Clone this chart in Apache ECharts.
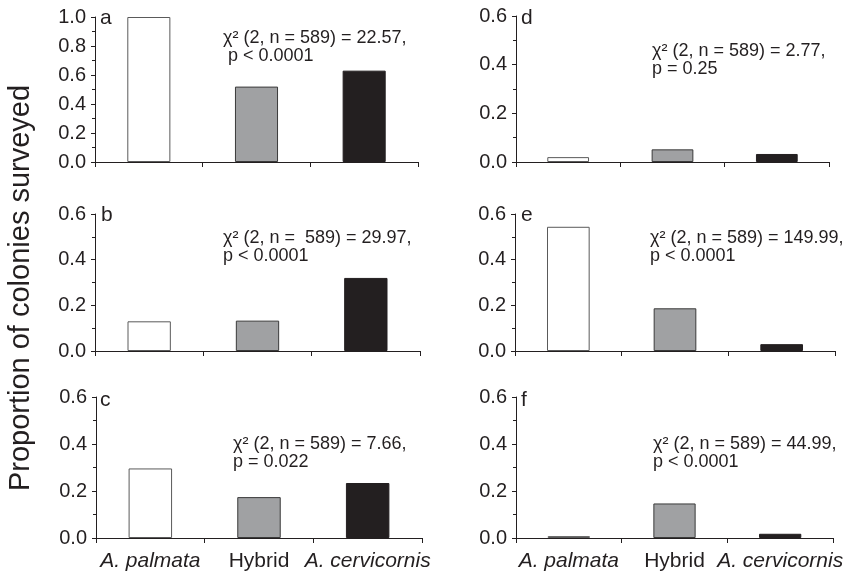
<!DOCTYPE html>
<html>
<head>
<meta charset="utf-8">
<script src="https://cdn.jsdelivr.net/npm/echarts@6/dist/echarts.min.js"></script>
<style>html,body{margin:0;padding:0;background:#fff}#c{width:850px;height:576px}</style>
</head>
<body>
<div id="c"></div>
<script>
// ---- data ----
var categories = ['A. palmata', 'Hybrid', 'A. cervicornis'];
var panelA = [1.0, 0.52, 0.63];
var panelB = [0.13, 0.133, 0.32];
var panelC = [0.296, 0.174, 0.234];
var panelD = [0.02, 0.052, 0.033];
var panelE = [0.544, 0.187, 0.03];
var panelF = [0.008, 0.147, 0.018];
var panelLetters = ['a', 'b', 'c', 'd', 'e', 'f'];
var statLine1 = [
  'χ² (2, n = 589) = 22.57,',
  'χ² (2, n =  589) = 29.97,',
  'χ² (2, n = 589) = 7.66,',
  'χ² (2, n = 589) = 2.77,',
  'χ² (2, n = 589) = 149.99,',
  'χ² (2, n = 589) = 44.99,'
];
var statLine2 = [' p < 0.0001', 'p < 0.0001', 'p = 0.022', 'p = 0.25', 'p < 0.0001', 'p < 0.0001'];
var yMax = [1.0, 0.6, 0.6, 0.6, 0.6, 0.6];
var yInterval = 0.2;
var yTitle = 'Proportion of colonies surveyed';

// ---- layout / style ----
var FONT = "'Liberation Sans', Arial, Helvetica, sans-serif";
var barColors = ['#ffffff', '#a0a1a3', '#231f20'];
var barBorders = ['#5a5a5a', '#3a3a3a', '#231f20'];
var grids = [
  {left: 95, top: 17, width: 323, height: 145},
  {left: 95, top: 214, width: 325, height: 137},
  {left: 96, top: 397, width: 326, height: 141},
  {left: 516, top: 16, width: 313, height: 146},
  {left: 515, top: 214, width: 320, height: 137},
  {left: 516, top: 397, width: 317, height: 141}
];
var letterPos = [[100, 29], [101, 226], [100, 411], [521, 29], [521, 226], [521, 411]];
var statPos = [[223, 38], [223, 238], [233, 444], [652, 51], [650, 238], [653, 444]];
var statPos2 = [[223, 56], [223, 256], [233, 462], [652, 69], [650, 256], [653, 462]];
var allData = [panelA, panelB, panelC, panelD, panelE, panelF];

var xAxes = [], yAxes = [], series = [], graphics = [];
for (var i = 0; i < 6; i++) {
  var bottomRow = (i === 2 || i === 5);
  xAxes.push({
    type: 'category', gridIndex: i, data: categories,
    boundaryGap: true,
    axisLine: {lineStyle: {color: '#231f20', width: 1}},
    axisTick: {show: true, length: 5, alignWithLabel: false, lineStyle: {color: '#231f20'}},
    axisLabel: {
      show: bottomRow, margin: 13, interval: 0,
      formatter: function (v) { return v === 'Hybrid' ? '{n|' + v + '}' : '{i|' + v + '}'; },
      rich: {
        n: {fontFamily: FONT, fontSize: 21, color: '#231f20'},
        i: {fontFamily: FONT, fontSize: 21, fontStyle: 'italic', color: '#231f20'}
      }
    },
    splitLine: {show: false}
  });
  yAxes.push({
    type: 'value', gridIndex: i, min: 0, max: yMax[i], interval: yInterval,
    axisLine: {show: true, lineStyle: {color: '#231f20', width: 1}},
    axisTick: {show: true, length: 4, lineStyle: {color: '#231f20'}},
    minorTick: {show: true, splitNumber: 2, length: 3, lineStyle: {color: '#231f20'}},
    axisLabel: {
      margin: 9, fontFamily: FONT, fontSize: 20, color: '#231f20',
      formatter: function (v) { return v.toFixed(1); }
    },
    splitLine: {show: false}
  });
  series.push({
    type: 'bar', xAxisIndex: i, yAxisIndex: i, barWidth: '40%',
    data: allData[i].map(function (v, k) {
      return {value: v, itemStyle: {color: barColors[k], borderColor: barBorders[k], borderWidth: 1}};
    }),
    silent: true
  });
  graphics.push({
    type: 'text', x: letterPos[i][0], y: letterPos[i][1],
    style: {text: panelLetters[i], font: '21px ' + FONT, fill: '#231f20', textVerticalAlign: 'bottom'}
  });
  graphics.push({
    type: 'text', x: statPos[i][0], y: statPos[i][1],
    style: {text: statLine1[i], font: '18px ' + FONT, fill: '#231f20', textVerticalAlign: 'middle'}
  });
  graphics.push({
    type: 'text', x: statPos2[i][0], y: statPos2[i][1],
    style: {text: statLine2[i], font: '18px ' + FONT, fill: '#231f20', textVerticalAlign: 'middle'}
  });
}
graphics.push({
  type: 'text', x: 21, y: 288, rotation: Math.PI / 2,
  style: {text: yTitle, font: '29px ' + FONT, fill: '#231f20', textAlign: 'center', textVerticalAlign: 'middle'}
});

var chart = echarts.init(document.getElementById('c'), null, {renderer: 'canvas'});
chart.setOption({
  animation: false,
  backgroundColor: '#ffffff',
  grid: grids,
  xAxis: xAxes,
  yAxis: yAxes,
  series: series,
  graphic: graphics
});
</script>
</body>
</html>
